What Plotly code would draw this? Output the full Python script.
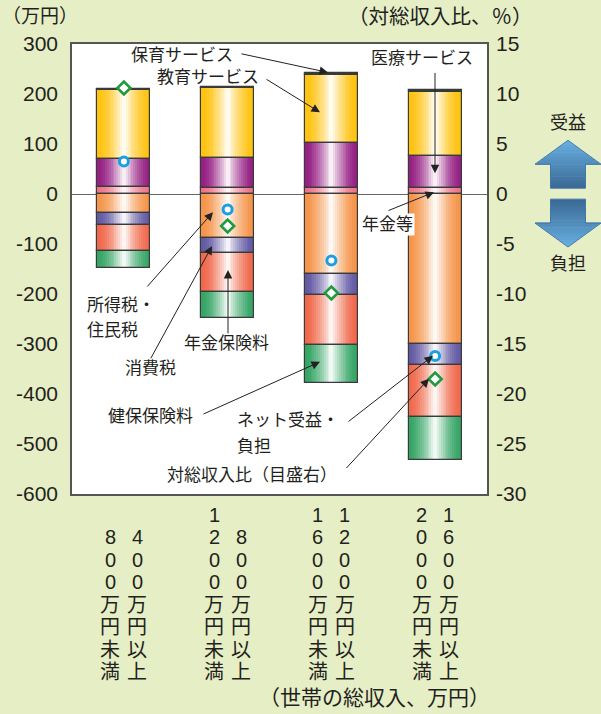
import plotly.graph_objects as go

# ---------------- data ----------------
cat_left = ["800万円未満", "1200万円未満", "1600万円未満", "2000万円未満"]
cat_right = ["400万円以上", "800万円以上", "1200万円以上", "1600万円以上"]

# benefits (万円, positive)
pension_benefit = [14, 12, 13, 11.5]      # 年金等
medical = [57, 60, 89, 65]                # 医療サービス
education = [137, 140, 137, 129]          # 教育サービス
childcare = [3, 3, 3, 3]                  # 保育サービス
# burdens (万円, negative)
income_tax = [-37, -87, -159, -299]       # 所得税・住民税
consumption_tax = [-25.5, -31.5, -42, -43]  # 消費税
pension_premium = [-51.5, -77.5, -101, -103.5]  # 年金保険料
health_premium = [-33, -51, -75, -86.5]   # 健保保険料
# net benefit (万円) and ratio to total income (%)
net = [65, -31, -133, -324]
ratio = [10.6, -3.2, -9.9, -18.5]

y_ticks = [300, 200, 100, 0, -100, -200, -300, -400, -500, -600]
y2_ticks = [15, 10, 5, 0, -5, -10, -15, -20, -25, -30]

# ---------------- layout constants ----------------
W, H = 601, 714
L, R, T, B = 72, 487, 43.5, 494.5
XR = [-0.5, 3.5]
YR = [-600, 300]
FONT = "Liberation Sans, Arial, Noto Sans CJK JP"
TXT = "#231f20"
BAR_W = 0.51


def px2x(px):
    return XR[0] + (px - L) / (R - L) * (XR[1] - XR[0])


def py2y(py):
    return YR[1] - (py - T) / (B - T) * (YR[1] - YR[0])


def px2paper(px):
    return (px - L) / (R - L)


def py2paper(py):
    return (B - py) / (B - T)


def rgb(hexc):
    return int(hexc[1:3], 16), int(hexc[3:5], 16), int(hexc[5:7], 16)


def mix(hexc, t, other="#ffffff"):
    a, b = rgb(hexc), rgb(other)
    c = [a[k] + (b[k] - a[k]) * t for k in range(3)]
    return f"rgb({c[0]:.0f},{c[1]:.0f},{c[2]:.0f})"


xs = list(range(len(cat_left)))

segments = []
pos_series = [(pension_benefit, "#ee7388", True), (medical, "#951f83", True),
              (education, "#ffc20e", True), (childcare, "#22452a", False)]
neg_series = [(income_tax, "#f5944a", True), (consumption_tax, "#6259a3", True),
              (pension_premium, "#f0684a", True), (health_premium, "#35a565", True)]
for group in (pos_series, neg_series):
    base = [0] * len(xs)
    for vals, col, grad in group:
        segments.append((list(base), vals, col, grad))
        base = [b + v for b, v in zip(base, vals)]

fig = go.Figure()
N = 14
for base, vals, col, grad in segments:
    layers = N if grad else 1
    for j in range(layers):
        t = 0.93 * (j / (N - 1)) ** 1.6 if grad else 0
        fig.add_trace(go.Bar(
            x=xs, y=vals, base=base, width=BAR_W * (1 - j / N),
            marker=dict(color=mix(col, t), line=dict(width=0)),
            hoverinfo="skip", showlegend=False))
for base, vals, col, grad in segments:
    fig.add_trace(go.Bar(
        x=xs, y=vals, base=base, width=BAR_W,
        marker=dict(color="rgba(0,0,0,0)", line=dict(width=1.2, color="#3a3a3a")),
        hoverinfo="skip", showlegend=False))

fig.add_trace(go.Scatter(
    x=xs, y=net, mode="markers",
    marker=dict(symbol="circle", size=9, color="white",
                line=dict(width=3, color="#1a9fe3")),
    hoverinfo="skip", showlegend=False))
fig.add_trace(go.Scatter(
    x=xs, y=ratio, mode="markers", yaxis="y2",
    marker=dict(symbol="diamond", size=10, color="white",
                line=dict(width=2.6, color="#1f9b3c")),
    hoverinfo="skip", showlegend=False))

ann = []
# text labels (text, px, py, anchor)
labels = [
    ("保育サービス", 182, 55, "center"),
    ("教育サービス", 208, 77, "center"),
    ("医療サービス", 422, 58, "center"),
    ("所得税・", 85, 306, "left"),
    ("住民税", 85, 331, "left"),
    ("消費税", 150, 369, "center"),
    ("年金保険料", 226, 344, "center"),
    ("健保保険料", 150, 417, "center"),
    ("ネット受益・", 235, 421, "left"),
    ("負担", 235, 447, "left"),
    ("対総収入比（目盛右）", 252, 476, "center"),
]
for text, px, py, anc in labels:
    ann.append(dict(x=px2x(px), y=py2y(py), xref="x", yref="y", text=text,
                    showarrow=False, xanchor=anc, yanchor="middle",
                    font=dict(size=17, color=TXT, family=FONT)))
# arrows (tail px, tail py, head px, head py)
arrows = [
    (240, 53, 328, 72), (265, 78, 320, 112), (435, 71, 435, 173),
    (387, 211, 434, 192), (146, 288, 213, 212), (150, 360, 212, 246),
    (228, 335, 228, 270), (202, 415, 320, 362), (347, 423, 433, 356),
    (345, 470, 429, 379),
]
for tx, ty, hx, hy in arrows:
    ann.append(dict(x=px2x(hx), y=py2y(hy), ax=px2x(tx), ay=py2y(ty),
                    xref="x", yref="y", axref="x", ayref="y", text="",
                    showarrow=True, arrowhead=2, arrowsize=1.7, arrowwidth=1,
                    arrowcolor="#222", standoff=0))
# 年金等 label with white background, above its arrow tail
ann.append(dict(x=px2x(387), y=py2y(224), xref="x", yref="y", text="年金等",
                showarrow=False, font=dict(size=17, color=TXT, family=FONT),
                bgcolor="white", borderpad=1))

# vertical category labels: one character per row, columns bottom-aligned
ROW_BOTTOM, ROW_STEP = 673, 22.5
for i, (lt, rt) in enumerate(zip(cat_left, cat_right)):
    for txt, sh in ((lt, -13.5), (rt, 13.5)):
        chars = list(txt)
        n = len(chars)
        for k, ch in enumerate(chars):
            py = ROW_BOTTOM - (n - 1 - k) * ROW_STEP
            ann.append(dict(x=i, xref="x", xshift=sh, y=py2paper(py), yref="paper",
                            yanchor="middle", xanchor="center", text=ch,
                            showarrow=False,
                            font=dict(size=20, color=TXT, family=FONT)))


def paper_text(text, px, py, size):
    return dict(x=px2paper(px), y=py2paper(py), xref="paper", yref="paper",
                xanchor="center", yanchor="middle", text=text, showarrow=False,
                font=dict(size=size, color=TXT, family=FONT))


ann.append(paper_text("（万円）", 40, 16, 19))
ann.append(paper_text("（対総収入比、％）", 440, 16, 20.5))
ann.append(paper_text("（世帯の総収入、万円）", 374, 698, 21))
ann.append(paper_text("受益", 568, 123, 18))
ann.append(paper_text("負担", 568, 264, 18))

# decorative block arrows on the right (banded fill to mimic a gradient)
LIGHT, DARK = "#68b0e2", "#3a6893"


def poly(pts):
    return "M " + " L ".join(f"{px2paper(a):.4f},{py2paper(b):.4f}" for a, b in pts) + " Z"


def block_arrow(cx, tip, wing, end, hw_head, hw_shaft, c_top, c_bot, n=10):
    out = []
    ytop, ybot = min(tip, end), max(tip, end)

    def colr(y):
        return mix(c_top, (y - ytop) / (ybot - ytop), c_bot)

    sgn = 1 if end > tip else -1
    # head bands
    for k in range(n):
        y0 = tip + (wing - tip) * k / n
        y1 = tip + (wing - tip) * (k + 1) / n
        h0 = hw_head * k / n
        h1 = hw_head * (k + 1) / n
        e = 0.6 * sgn
        out.append(dict(type="path", xref="paper", yref="paper", layer="above",
                        path=poly([(cx - h0, y0), (cx + h0, y0), (cx + h1, y1 + e), (cx - h1, y1 + e)]),
                        fillcolor=colr((y0 + y1) / 2), line=dict(width=0)))
    for k in range(n):
        y0 = wing + (end - wing) * k / n
        y1 = wing + (end - wing) * (k + 1) / n
        e = 0.6 * sgn if k < n - 1 else 0
        out.append(dict(type="path", xref="paper", yref="paper", layer="above",
                        path=poly([(cx - hw_shaft, y0), (cx + hw_shaft, y0),
                                   (cx + hw_shaft, y1 + e), (cx - hw_shaft, y1 + e)]),
                        fillcolor=colr((y0 + y1) / 2), line=dict(width=0)))
    outline = [(cx, tip), (cx + hw_head, wing), (cx + hw_shaft, wing), (cx + hw_shaft, end),
               (cx - hw_shaft, end), (cx - hw_shaft, wing), (cx - hw_head, wing)]
    out.append(dict(type="path", xref="paper", yref="paper", layer="above",
                    path=poly(outline), fillcolor="rgba(0,0,0,0)",
                    line=dict(color="#3f78ad", width=1)))
    return out


shapes = (block_arrow(568, 140, 164, 188, 33, 17.5, LIGHT, DARK)
          + block_arrow(568, 247, 223, 199, 33, 17.5, DARK, LIGHT))

fig.update_layout(
    width=W, height=H,
    margin=dict(l=L, r=W - R, t=T, b=H - B),
    paper_bgcolor="#e6eec5", plot_bgcolor="white",
    barmode="overlay", bargap=0,
    font=dict(family=FONT, color=TXT),
    xaxis=dict(range=XR, showticklabels=False, showgrid=False, zeroline=False,
               showline=True, mirror=True, linecolor="#555", linewidth=1.5,
               ticks=""),
    yaxis=dict(range=YR, tickvals=y_ticks, ticktext=[str(v) for v in y_ticks],
               showgrid=False, zeroline=True, zerolinecolor="#666",
               zerolinewidth=1, showline=True, mirror=True, linecolor="#555",
               linewidth=1.5, ticks="", ticklabelstandoff=8,
               tickfont=dict(size=21, family=FONT, color=TXT)),
    yaxis2=dict(range=[-30, 15], overlaying="y", side="right",
                tickvals=y2_ticks, ticktext=[str(v) for v in y2_ticks],
                showgrid=False, zeroline=False, showline=False, ticks="",
                ticklabelstandoff=8,
                tickfont=dict(size=21, family=FONT, color=TXT)),
    annotations=ann, shapes=shapes,
)

fig.write_html("out.html", config={"displayModeBar": False},
               post_script="document.body.style.margin='0px';"
                           "document.body.style.padding='0px';")
